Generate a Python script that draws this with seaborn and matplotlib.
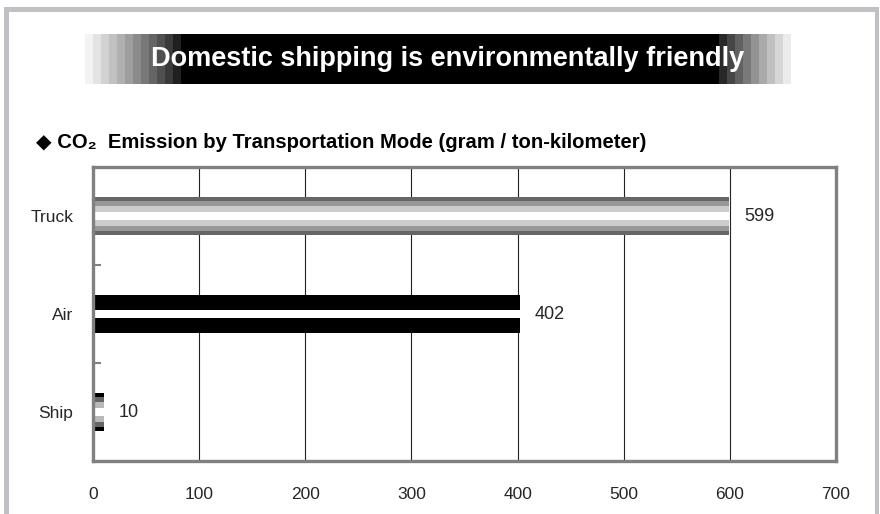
import numpy as np
import pandas as pd
import seaborn as sns
import matplotlib.pyplot as plt
from matplotlib.patches import Rectangle

# Data
modes = ["Truck", "Air", "Ship"]
emissions = [599, 402, 10]
x_ticks = [0, 100, 200, 300, 400, 500, 600, 700]

title = "Domestic shipping is environmentally friendly"
subtitle = "\u25c6 CO\u2082  Emission by Transportation Mode (gram / ton-kilometer)"

# Striped bar fills: outer layer first, inner layer last (per mode)
layer_widths = [0.39, 0.30, 0.20, 0.09]
layer_colors = {
    "Truck": ["#666666", "#999999", "#cccccc", "#ffffff"],
    "Air":   ["#000000", "#000000", "#000000", "#ffffff"],
    "Ship":  ["#000000", "#666666", "#b8b8b8", "#ffffff"],
}

df = pd.DataFrame({"mode": modes, "value": emissions})

sns.set_theme(style="white")
plt.rcParams["font.family"] = ["Liberation Sans", "DejaVu Sans"]

fig = plt.figure(figsize=(8.8, 5.14), dpi=100)
W, H = 880, 514

def fx(px):
    return px / W

def fy(py):
    return 1 - py / H

# Outer light-gray frame (top, left, right)
frame_col = "#c0c0c4"
fig.add_artist(Rectangle((fx(4), fy(12)), fx(876) - fx(4), fy(7) - fy(12),
                         transform=fig.transFigure, color=frame_col, lw=0))
fig.add_artist(Rectangle((fx(4), 0), fx(5), fy(7),
                         transform=fig.transFigure, color=frame_col, lw=0))
fig.add_artist(Rectangle((fx(875), 0), fx(4), fy(7),
                         transform=fig.transFigure, color=frame_col, lw=0))

# Title banner with stepped gray fades on both ends
bx0, bx1, by0, by1 = 85, 790, 34, 84
bax = fig.add_axes([fx(bx0), fy(by1), fx(bx1 - bx0), fy(by0) - fy(by1)])
bax.axis("off")
ncols = bx1 - bx0
shade = np.zeros(ncols)
left_steps = np.linspace(0.94, 0.0, 13) ** 0.8
for i, v in enumerate(left_steps):
    shade[i * 8:(i + 1) * 8] = v
right_steps = np.linspace(0.0, 0.90, 10) ** 0.8
start = ncols - 10 * 8
for i, v in enumerate(right_steps):
    shade[start + i * 8:start + (i + 1) * 8] = v
bax.imshow(shade[np.newaxis, :], cmap="gray", vmin=0, vmax=1, aspect="auto",
           interpolation="nearest")
fig.text(fx(448), fy(59), title, color="white", fontsize=19.5,
         fontweight="bold", ha="center", va="center")

# Subtitle
fig.text(fx(36), fy(143), subtitle, color="black", fontsize=14.6,
         fontweight="bold", ha="left", va="center")

# Main axes
ax = fig.add_axes([fx(93), fy(461), fx(836 - 93), fy(167) - fy(461)])

for k, w in enumerate(layer_widths):
    pal = {m: layer_colors[m][k] for m in modes}
    sns.barplot(data=df, x="value", y="mode", hue="mode", palette=pal,
                orient="h", width=w, legend=False, saturation=1,
                linewidth=0, ax=ax)

ax.set_xlim(0, 700)
ax.set_ylim(2.5, -0.5)
ax.set_xticks(x_ticks)
ax.set_xticklabels([str(t) for t in x_ticks], fontsize=12.5)
ax.set_xlabel("")
ax.set_ylabel("")
ax.tick_params(axis="x", length=0, pad=19)
ax.tick_params(axis="y", which="major", length=0, pad=14, labelsize=12.5)
ax.set_yticks([0.5, 1.5], minor=True)
ax.tick_params(axis="y", which="minor", direction="in", length=6,
               width=1.5, color="#808080", left=True)

# Vertical gridlines
for t in x_ticks[1:-1]:
    ax.axvline(t, color="#222222", lw=0.8, zorder=0)

for sp in ax.spines.values():
    sp.set_color("#808080")
    sp.set_linewidth(2.4)
    sp.set_visible(True)

# Value labels
for i, v in enumerate(emissions):
    ax.annotate(str(v), xy=(v, i), xytext=(11, 0), textcoords="offset points",
                ha="left", va="center", fontsize=13)

fig.savefig("out.png", dpi=100)
